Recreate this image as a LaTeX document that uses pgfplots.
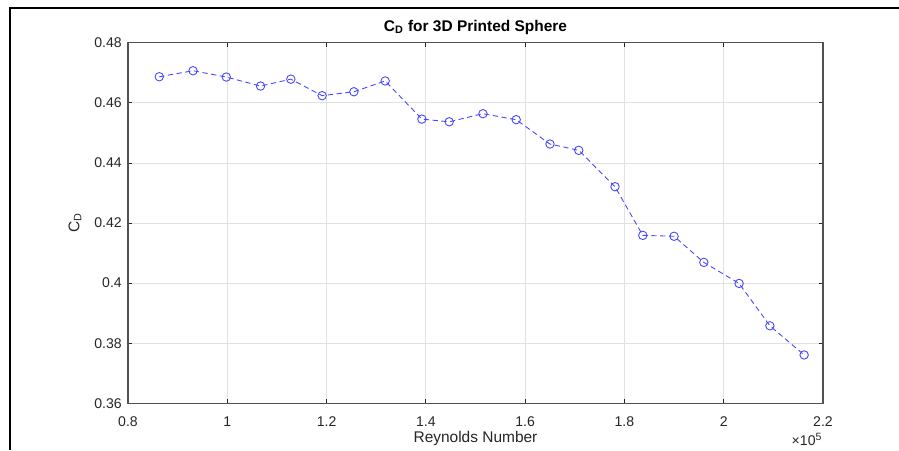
\documentclass[border=0pt]{standalone}
\usepackage{fontspec}
\setmainfont{Liberation Sans}
\usepackage{pgfplots}
\pgfplotsset{compat=1.18}
\definecolor{axgray}{RGB}{38,38,38}
\definecolor{gridgray}{RGB}{225,225,225}
\definecolor{lineblue}{RGB}{70,70,255}

\begin{document}
\begin{tikzpicture}
\path[use as bounding box] (0,0) rectangle (17.98cm,9cm);
% figure frame (top and left edges only)
\draw[line width=1.2pt] (0.2cm,0) -- (0.2cm,8.84cm) -- (17.98cm,8.84cm);
\begin{axis}[
  at={(2.56cm,0.934cm)}, anchor=south west,
  scale only axis, width=13.9cm, height=7.21cm,
  clip mode=individual,
  xmin=0.8, xmax=2.2, ymin=0.36, ymax=0.48,
  xtick={0.8,1,1.2,1.4,1.6,1.8,2,2.2},
  ytick={0.36,0.38,0.4,0.42,0.44,0.46,0.48},
  yticklabel style={/pgf/number format/.cd, fixed, precision=2},
  xticklabel style={yshift=-4pt},
  tick align=inside, major tick length=0.08cm,
  tick style={axgray, line width=0.5pt},
  axis line style={axgray!80, line width=0.6pt},
  grid=major, major grid style={gridgray, line width=0.5pt},
  tick label style={font=\fontsize{8}{9}\selectfont, text=axgray},
  /pgf/number format/assume math mode=true,
  xlabel={Reynolds Number},
  ylabel={C\textsubscript{D}},
  label style={font=\fontsize{8.8}{10}\selectfont, text=axgray},
  xlabel style={at={(axis description cs:0.5,-0.097)}, anchor=center},
  ylabel style={at={(axis description cs:-0.0763,0.5)}, anchor=center},
  title={\textbf{C\textsubscript{D} for 3D Printed Sphere}},
  title style={at={(axis description cs:0.5,1.014)}, anchor=center, font=\fontsize{8.8}{10}\selectfont},
]
\addplot[lineblue, line width=0.5pt, dash pattern=on 3pt off 2pt,
  mark=o, mark size=2.4pt, mark options={solid, line width=0.5pt}]
  coordinates {
  (0.863,0.4687) (0.931,0.4707) (0.998,0.4686) (1.067,0.4656)
  (1.128,0.4679) (1.191,0.4624) (1.255,0.4637) (1.318,0.4673)
  (1.392,0.4546) (1.447,0.4537) (1.515,0.4564) (1.582,0.4544)
  (1.650,0.4463) (1.708,0.4442) (1.781,0.4321) (1.837,0.4159)
  (1.900,0.4156) (1.960,0.4069) (2.031,0.3999) (2.093,0.3858)
  (2.162,0.3761)
  };
\node[font=\fontsize{8}{9}\selectfont, text=axgray] at (axis description cs:0.977,-0.10) {×10\textsuperscript{5}};
\end{axis}
\end{tikzpicture}
\end{document}
